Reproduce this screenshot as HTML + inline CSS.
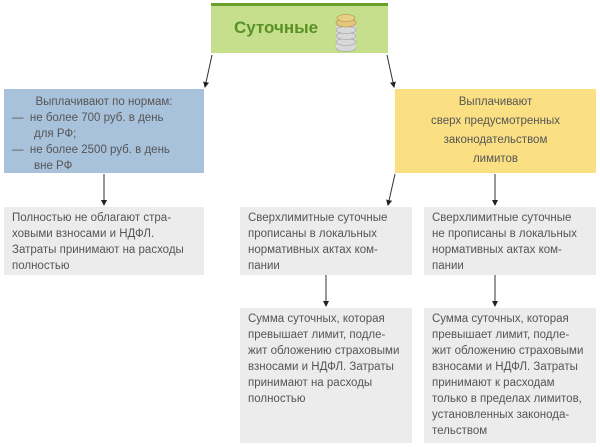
<!DOCTYPE html>
<html><head><meta charset="utf-8"><style>
body{margin:0;width:600px;height:447px;background:#fff;position:relative;overflow:hidden;font-family:"Liberation Sans","DejaVu Sans",sans-serif;color:#555;}
.b{position:absolute;box-sizing:border-box;font-size:11.5px;line-height:16px;}
.g{background:#ececec;padding:3px 8px;}
</style></head><body>
<div class="b" style="left:211px;top:3px;width:177px;height:50px;background:#c5df8d;border-top:3px solid #6a9f2a;">
<div style="position:absolute;left:23px;top:14px;font-size:17px;font-weight:bold;color:#5a9125;">Суточные</div>
<svg style="position:absolute;left:122px;top:4px" width="26" height="44">
<g fill="#d8d8d8" stroke="#999" stroke-width=".6">
<ellipse cx="13" cy="38" rx="10" ry="3.5"/><rect x="3" y="14" width="20" height="24" stroke="none"/>
<ellipse cx="13" cy="32" rx="10" ry="3.5"/><ellipse cx="13" cy="26" rx="10" ry="3.5"/><ellipse cx="13" cy="20" rx="10" ry="3.5"/>
</g>
<ellipse cx="13" cy="13" rx="10" ry="4" fill="#e3c77e" stroke="#b08c3a" stroke-width=".6"/>
<ellipse cx="13" cy="8" rx="9" ry="3.5" fill="#e8cf88" stroke="#b08c3a" stroke-width=".6"/>
</svg></div>
<div class="b" style="left:4px;top:89px;width:200px;height:84px;background:#a9c2db;padding:5px 8px;">
<div style="text-align:center">Выплачивают по нормам:</div>
<div>—&nbsp; не более 700 руб. в день</div><div style="padding-left:22px">для РФ;</div>
<div>—&nbsp; не более 2500 руб. в день</div><div style="padding-left:22px">вне РФ</div></div>
<div class="b" style="left:395px;top:89px;width:201px;height:84px;background:#fbe083;text-align:center;padding-top:4px;line-height:19px;">Выплачивают<br>сверх предусмотренных<br>законодательством<br>лимитов</div>
<div class="b g" style="left:4px;top:207px;width:200px;height:68px;">Полностью не облагают стра-<br>ховыми взносами и НДФЛ.<br>Затраты принимают на расходы<br>полностью</div>
<div class="b g" style="left:240px;top:207px;width:172px;height:68px;">Сверхлимитные суточные<br>прописаны в локальных<br>нормативных актах ком-<br>пании</div>
<div class="b g" style="left:424px;top:207px;width:172px;height:68px;">Сверхлимитные суточные<br>не прописаны в локальных<br>нормативных актах ком-<br>пании</div>
<div class="b g" style="left:240px;top:308px;width:172px;height:135px;">Сумма суточных, которая<br>превышает лимит, подле-<br>жит обложению страховыми<br>взносами и НДФЛ. Затраты<br>принимают на расходы<br>полностью</div>
<div class="b g" style="left:424px;top:308px;width:172px;height:135px;">Сумма суточных, которая<br>превышает лимит, подле-<br>жит обложению страховыми<br>взносами и НДФЛ. Затраты<br>принимают к расходам<br>только в пределах лимитов,<br>установленных законода-<br>тельством</div>
<svg style="position:absolute;left:0;top:0" width="600" height="447">
<defs><marker id="a" markerWidth="6" markerHeight="6" refX="5" refY="3" orient="auto" markerUnits="userSpaceOnUse"><path d="M0,0L6,3L0,6z" fill="#222"/></marker></defs>
<g stroke="#333" stroke-width="1" marker-end="url(#a)">
<line x1="212" y1="55" x2="205" y2="87"/><line x1="387" y1="55" x2="394" y2="87"/>
<line x1="104" y1="174" x2="104" y2="205"/><line x1="395" y1="174" x2="388" y2="205"/>
<line x1="495" y1="174" x2="495" y2="205"/><line x1="326" y1="275" x2="326" y2="306"/>
<line x1="495" y1="275" x2="495" y2="306"/></g></svg>
</body></html>
